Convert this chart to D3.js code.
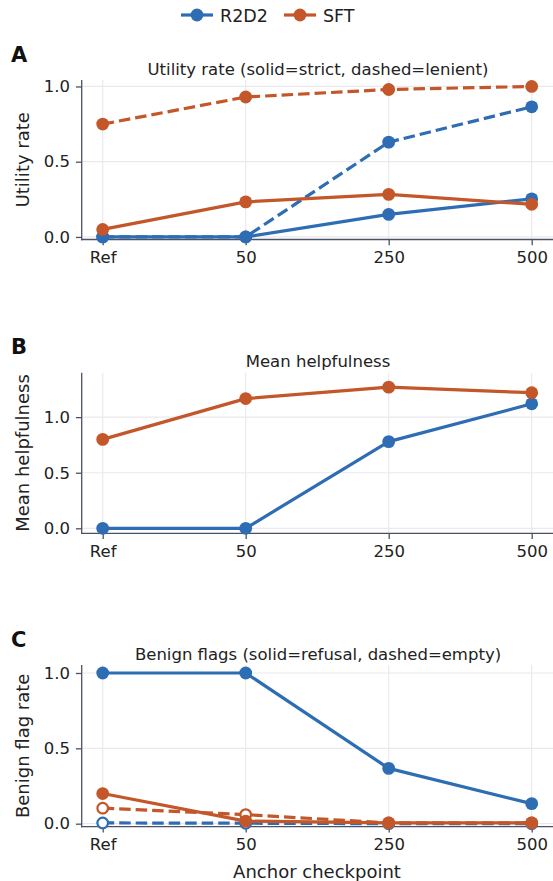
<!DOCTYPE html>
<html>
<head>
<meta charset="utf-8">
<script src="https://cdn.jsdelivr.net/npm/d3@7.9.0/dist/d3.min.js"></script>
<style>
  body { margin: 0; background: #fff; }
  svg { display: block; font-family: "DejaVu Sans", sans-serif; }
</style>
</head>
<body>
<div id="chart"></div>
<script>
const checkpoints = ['Ref', '50', '250', '500'];
const models = ['R2D2', 'SFT'];

// Panel A: utility rate
const utilStrictR2D2 = [0, 0, 0.15, 0.253];
const utilLenientR2D2 = [0, 0, 0.63, 0.865];
const utilStrictSFT = [0.05, 0.233, 0.283, 0.217];
const utilLenientSFT = [0.75, 0.93, 0.98, 1.0];

// Panel B: mean helpfulness
const helpR2D2 = [0, 0, 0.78, 1.12];
const helpSFT = [0.8, 1.167, 1.27, 1.22];

// Panel C: benign flags
const refusalR2D2 = [1.0, 1.0, 0.367, 0.133];
const emptyR2D2 = [0.005, 0.003, 0, 0];
const refusalSFT = [0.2, 0.017, 0.006, 0.006];
const emptySFT = [0.103, 0.06, 0.005, 0.005];

const yTicks = [0, 0.5, 1.0];

const color = { R2D2: '#2e6db4', SFT: '#c3572a' };
const spine = '#4b5263';
const grid = '#e9e9ef';

const width = 553, height = 881;
const svg = d3.select('#chart').append('svg')
  .attr('width', width).attr('height', height);

const x = d3.scaleLinear().domain([0, 3]).range([102.7, 531.7]);
const axLeft = 81.7, axRight = 560;
const tickLen = 5.8, tickPad = 5.8;

const panels = [
  {
    letter: 'A', title: 'Utility rate (solid=strict, dashed=lenient)', ylabel: 'Utility rate',
    top: 80, bottom: 239.5, domain: [-0.017, 1.043],
    series: [
      { model: 'R2D2', values: utilLenientR2D2, dashed: true, open: false },
      { model: 'R2D2', values: utilStrictR2D2, dashed: false, open: false },
      { model: 'SFT', values: utilLenientSFT, dashed: true, open: false },
      { model: 'SFT', values: utilStrictSFT, dashed: false, open: false },
    ],
  },
  {
    letter: 'B', title: 'Mean helpfulness', ylabel: 'Mean helpfulness',
    top: 372.7, bottom: 533.3, domain: [-0.045, 1.40],
    series: [
      { model: 'R2D2', values: helpR2D2, dashed: false, open: false },
      { model: 'SFT', values: helpSFT, dashed: false, open: false },
    ],
  },
  {
    letter: 'C', title: 'Benign flags (solid=refusal, dashed=empty)', ylabel: 'Benign flag rate',
    top: 665, bottom: 826.7, domain: [-0.02, 1.053],
    series: [
      { model: 'R2D2', values: emptyR2D2, dashed: true, open: true },
      { model: 'R2D2', values: refusalR2D2, dashed: false, open: false },
      { model: 'SFT', values: emptySFT, dashed: true, open: true },
      { model: 'SFT', values: refusalSFT, dashed: false, open: false },
    ],
  },
];

panels.forEach((p) => {
  const y = d3.scaleLinear().domain(p.domain).range([p.bottom, p.top]);
  const g = svg.append('g');

  // gridlines
  g.append('g').selectAll('line').data(yTicks).join('line')
    .attr('x1', axLeft).attr('x2', axRight)
    .attr('y1', (d) => y(d)).attr('y2', (d) => y(d))
    .attr('stroke', grid).attr('stroke-width', 1.2);
  g.append('g').selectAll('line').data(checkpoints).join('line')
    .attr('x1', (d, i) => x(i)).attr('x2', (d, i) => x(i))
    .attr('y1', p.top).attr('y2', p.bottom)
    .attr('stroke', grid).attr('stroke-width', 1.2);

  // axes
  const yAxis = d3.axisLeft(y).tickValues(yTicks).tickFormat(d3.format('.1f'))
    .tickSize(tickLen).tickPadding(tickPad);
  const ya = g.append('g').attr('transform', `translate(${axLeft},0)`).call(yAxis);
  ya.select('.domain').remove();
  ya.selectAll('.tick line').attr('stroke', spine).attr('stroke-width', 1.3);
  ya.selectAll('.tick text').attr('fill', '#222').style('font-size', '16.5px')
    .style('font-family', '"DejaVu Sans", sans-serif');

  const xAxis = d3.axisBottom(x).tickValues([0, 1, 2, 3])
    .tickFormat((d) => checkpoints[d]).tickSize(tickLen).tickPadding(tickPad);
  const xa = g.append('g').attr('transform', `translate(0,${p.bottom})`).call(xAxis);
  xa.select('.domain').remove();
  xa.selectAll('.tick line').attr('stroke', spine).attr('stroke-width', 1.3);
  xa.selectAll('.tick text').attr('fill', '#222').style('font-size', '16.5px')
    .style('font-family', '"DejaVu Sans", sans-serif');

  g.append('line').attr('x1', axLeft).attr('x2', axLeft)
    .attr('y1', p.top).attr('y2', p.bottom + 0.65)
    .attr('stroke', spine).attr('stroke-width', 1.3);
  g.append('line').attr('x1', axLeft - 0.65).attr('x2', axRight)
    .attr('y1', p.bottom).attr('y2', p.bottom)
    .attr('stroke', spine).attr('stroke-width', 1.3);

  // series
  const line = d3.line().x((d, i) => x(i)).y((d) => y(d));
  p.series.forEach((s) => {
    const c = color[s.model];
    g.append('path').datum(s.values)
      .attr('d', line).attr('fill', 'none')
      .attr('stroke', c).attr('stroke-width', 3.2)
      .attr('stroke-linejoin', 'round')
      .attr('stroke-dasharray', s.dashed ? '11.5,5' : null);
    g.append('g').selectAll('circle').data(s.values).join('circle')
      .attr('cx', (d, i) => x(i)).attr('cy', (d) => y(d))
      .attr('r', s.open ? 5.3 : 6.4)
      .attr('fill', s.open ? '#fff' : c)
      .attr('stroke', c).attr('stroke-width', s.open ? 2.2 : 0);
  });

  // titles and labels
  svg.append('text').attr('x', 318).attr('y', p.top - 5.3)
    .attr('text-anchor', 'middle').style('font-size', '16.5px').attr('fill', '#222')
    .text(p.title);
  svg.append('text').attr('x', 11).attr('y', p.top - 18.5)
    .style('font-size', '21px').style('font-weight', 'bold').attr('fill', '#111')
    .text(p.letter);
  svg.append('text')
    .attr('transform', `translate(29,${(p.top + p.bottom) / 2}) rotate(-90)`)
    .attr('text-anchor', 'middle').style('font-size', '18px').attr('fill', '#222')
    .text(p.ylabel);
});

svg.append('text').attr('x', 317).attr('y', 878)
  .attr('text-anchor', 'middle').style('font-size', '18px').attr('fill', '#222')
  .text('Anchor checkpoint');

// legend
const legendX = [181, 284];
models.forEach((m, i) => {
  const lg = svg.append('g').attr('transform', `translate(${legendX[i]},15)`);
  lg.append('line').attr('x1', 0).attr('x2', 32).attr('y1', 0).attr('y2', 0)
    .attr('stroke', color[m]).attr('stroke-width', 3.2);
  lg.append('circle').attr('cx', 16).attr('cy', 0).attr('r', 6.4).attr('fill', color[m]);
  lg.append('text').attr('x', 39).attr('y', 6.5)
    .style('font-size', '17.5px').attr('fill', '#222').text(m);
});
</script>
</body>
</html>
